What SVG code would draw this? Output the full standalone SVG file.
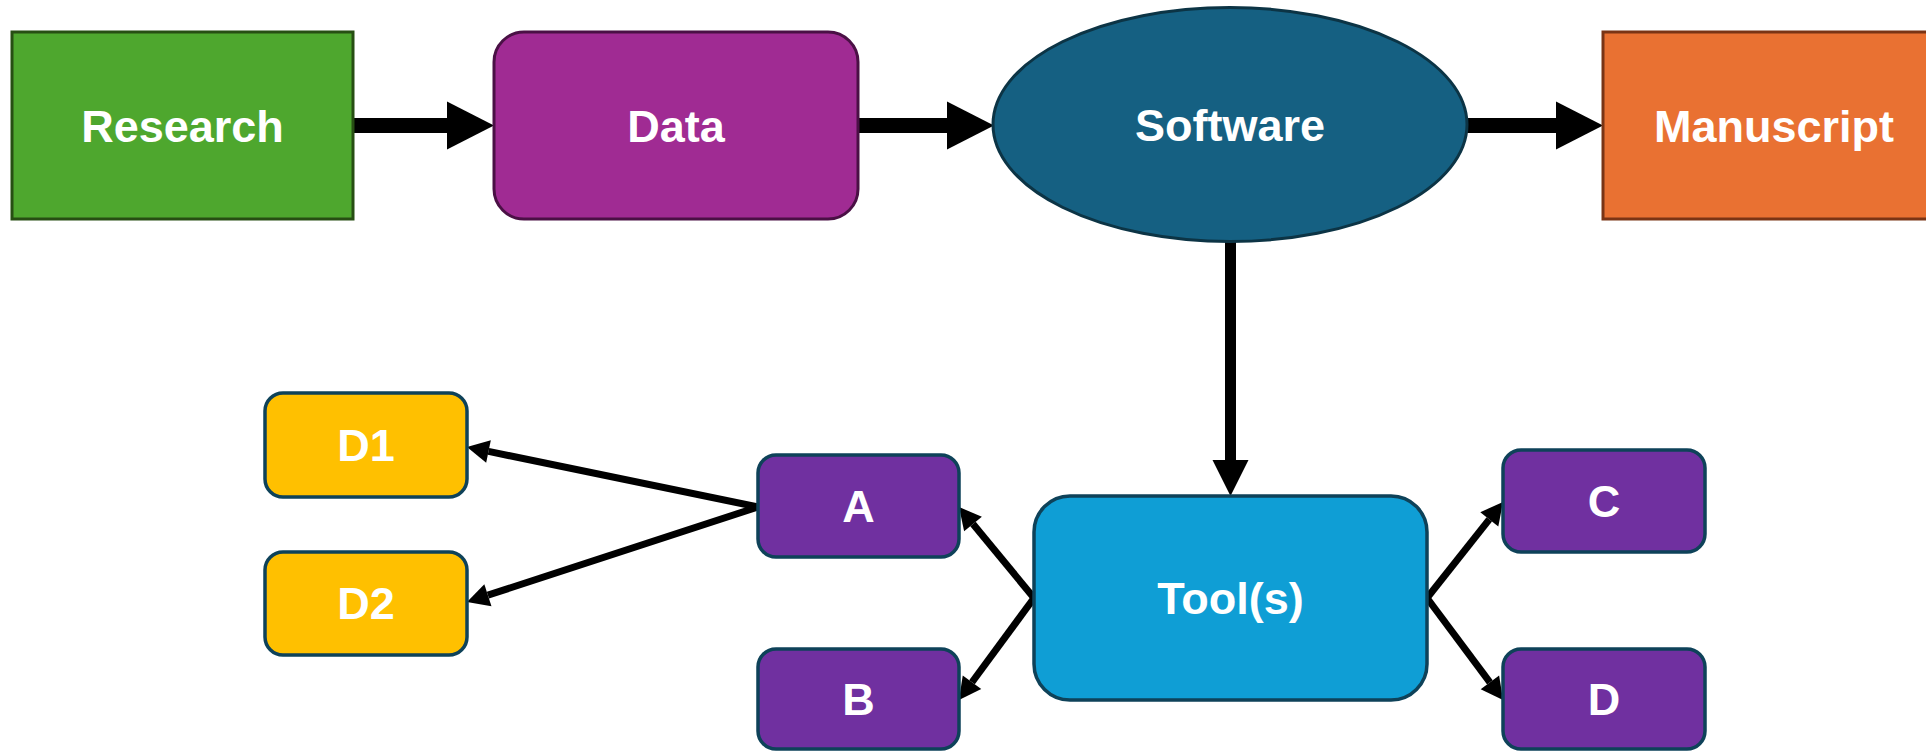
<svg xmlns="http://www.w3.org/2000/svg" width="1926" height="751" viewBox="0 0 1926 751">
  <style>
    .lbl { font-family: "Liberation Sans", Arial, sans-serif; font-weight: bold; font-size: 45px; fill: #ffffff; text-anchor: middle; }
    .big { stroke: #000000; stroke-width: 15; fill: none; }
    .mid { stroke: #000000; stroke-width: 11; fill: none; }
    .small { stroke: #000000; stroke-width: 7; fill: none; }
    .purple { fill: #7030a0; stroke: #0e4259; stroke-width: 3.5; }
    .yellow { fill: #ffc000; stroke: #0e4259; stroke-width: 3.5; }
  </style>
  <defs>
    <marker id="headBig" markerUnits="userSpaceOnUse" markerWidth="48" markerHeight="48" refX="0" refY="24" orient="auto" overflow="visible">
      <path d="M0,0 L47,24 L0,48 z" fill="#000000"/>
    </marker>
    <marker id="headMid" markerUnits="userSpaceOnUse" markerWidth="36" markerHeight="36" refX="0" refY="18" orient="auto" overflow="visible">
      <path d="M0,0 L36,18 L0,36 z" fill="#000000"/>
    </marker>
    <marker id="headSmall" markerUnits="userSpaceOnUse" markerWidth="22" markerHeight="23" refX="0" refY="11.5" orient="auto" overflow="visible">
      <path d="M0,0 L22,11.5 L0,23 z" fill="#000000"/>
    </marker>
  </defs>

  <g id="connectors">
    <line class="big" x1="353" y1="125.5" x2="447" y2="125.5" marker-end="url(#headBig)"/>
    <line class="big" x1="858" y1="125.5" x2="947" y2="125.5" marker-end="url(#headBig)"/>
    <line class="big" x1="1467" y1="125.5" x2="1556" y2="125.5" marker-end="url(#headBig)"/>
    <line class="mid" x1="1230.5" y1="241" x2="1230.5" y2="460" marker-end="url(#headMid)"/>
    <line class="small" x1="758" y1="507" x2="488.5" y2="451.4" marker-end="url(#headSmall)"/>
    <line class="small" x1="758" y1="507" x2="487.9" y2="595.2" marker-end="url(#headSmall)"/>
    <line class="small" x1="1034" y1="598" x2="973" y2="524" marker-end="url(#headSmall)"/>
    <line class="small" x1="1034" y1="598" x2="972" y2="682.3" marker-end="url(#headSmall)"/>
    <line class="small" x1="1427" y1="598" x2="1489.3" y2="519.3" marker-end="url(#headSmall)"/>
    <line class="small" x1="1427" y1="598" x2="1489.9" y2="682.4" marker-end="url(#headSmall)"/>
  </g>

  <g id="research">
    <rect x="12" y="32" width="341" height="187" fill="#4ea72e" stroke="#274e13" stroke-width="3"/>
    <text class="lbl" x="182.5" y="141.5">Research</text>
  </g>
  <g id="data">
    <rect x="494" y="32" width="364" height="187" rx="30" ry="30" fill="#a02b93" stroke="#4a1045" stroke-width="3"/>
    <text class="lbl" x="676" y="141.5">Data</text>
  </g>
  <g id="software">
    <ellipse cx="1230" cy="124.5" rx="237" ry="117" fill="#156082" stroke="#0c3445" stroke-width="3"/>
    <text class="lbl" x="1230" y="140.5">Software</text>
  </g>
  <g id="manuscript">
    <rect x="1603" y="32" width="341" height="187" fill="#e97132" stroke="#7a3415" stroke-width="3"/>
    <text class="lbl" x="1774" y="141.5">Manuscript</text>
  </g>
  <g id="tools">
    <rect x="1034" y="496" width="393" height="204" rx="36" ry="36" fill="#0f9ed5" stroke="#0e4259" stroke-width="3.5"/>
    <text class="lbl" x="1230.5" y="613.5">Tool(s)</text>
  </g>
  <g id="node-a">
    <rect class="purple" x="758" y="455" width="201" height="102" rx="18" ry="18"/>
    <text class="lbl" x="858.5" y="522">A</text>
  </g>
  <g id="node-b">
    <rect class="purple" x="758" y="649" width="201" height="100" rx="18" ry="18"/>
    <text class="lbl" x="858.5" y="715">B</text>
  </g>
  <g id="node-c">
    <rect class="purple" x="1503" y="450" width="202" height="102" rx="18" ry="18"/>
    <text class="lbl" x="1604" y="517">C</text>
  </g>
  <g id="node-d">
    <rect class="purple" x="1503" y="649" width="202" height="100" rx="18" ry="18"/>
    <text class="lbl" x="1604" y="715">D</text>
  </g>
  <g id="node-d1">
    <rect class="yellow" x="265" y="393" width="202" height="104" rx="18" ry="18"/>
    <text class="lbl" x="366" y="461">D1</text>
  </g>
  <g id="node-d2">
    <rect class="yellow" x="265" y="552" width="202" height="103" rx="18" ry="18"/>
    <text class="lbl" x="366" y="619">D2</text>
  </g>
</svg>
